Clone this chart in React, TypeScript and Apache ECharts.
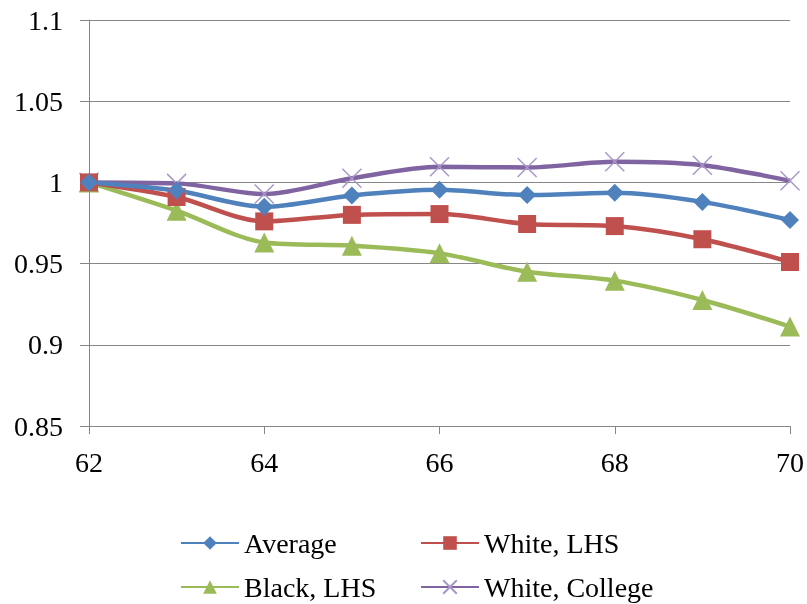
import React, { useEffect, useRef } from "react";
import * as echarts from "echarts";

const years = [62, 63, 64, 65, 66, 67, 68, 69, 70];
const average = [1.0, 0.995, 0.985, 0.992, 0.9955, 0.9922, 0.9936, 0.988, 0.9768];
const whiteLHS = [1.0, 0.991, 0.976, 0.980, 0.9805, 0.9744, 0.9731, 0.965, 0.951];
const blackLHS = [1.0, 0.9826, 0.963, 0.961, 0.9563, 0.945, 0.9395, 0.9276, 0.9112];
const whiteCollege = [1.0, 0.9994, 0.9928, 1.0025, 1.0096, 1.0092, 1.0127, 1.0106, 1.001];
const yTicks = { min: 0.85, max: 1.1, interval: 0.05 };
const xTicks = { min: 62, max: 70, interval: 2 };

const FONT = "Times New Roman";
const FS = 28;
const RICH = { t: { fontFamily: FONT, fontSize: FS, color: "#000" } };

const pairs = (vals: number[]) => years.map((y, i) => [y, vals[i]]);

export default function App() {
  const ref = useRef<HTMLDivElement>(null);
  useEffect(() => {
    if (!ref.current) return;
    const chart = echarts.init(ref.current, undefined, { renderer: "svg" });
    const mkSeries = (name: string, vals: number[], color: string, symbol: string, size: number, extra: any = {}) => ({
      name,
      type: "line",
      smooth: 0.3,
      data: pairs(vals),
      symbol,
      symbolSize: size,
      lineStyle: { color, width: 4.5 },
      itemStyle: { color },
      ...extra,
    });
    const legendItem = (name: string, left: number, top: number) => ({
      show: true,
      data: [name],
      left,
      top,
      itemWidth: 58,
      itemHeight: 17,
      itemGap: 0,
      formatter: (n: string) => `{t|${n}}`,
      textStyle: { fontFamily: FONT, fontSize: FS, rich: RICH },
    });
    chart.setOption({
      animation: false,
      grid: { left: 89, right: 15, top: 20, bottom: 178 },
      xAxis: {
        type: "value",
        min: xTicks.min,
        max: xTicks.max,
        interval: xTicks.interval,
        axisLine: { show: true, lineStyle: { color: "#868686", width: 1 } },
        axisTick: { show: true, length: 8, lineStyle: { color: "#868686" } },
        splitLine: { show: false },
        axisLabel: {
          fontFamily: FONT,
          fontSize: FS,
          margin: 22,
          formatter: (v: number) => `{t|${v}}`,
          rich: RICH,
        },
      },
      yAxis: {
        type: "value",
        min: yTicks.min,
        max: yTicks.max,
        interval: yTicks.interval,
        axisLine: { show: true, lineStyle: { color: "#868686", width: 1 } },
        axisTick: { show: true, length: 9, lineStyle: { color: "#868686" } },
        splitLine: { show: true, lineStyle: { color: "#868686", width: 1 } },
        axisLabel: {
          fontFamily: FONT,
          fontSize: FS,
          margin: 26,
          formatter: (v: number) => `{t|${String(parseFloat(v.toFixed(2)))}}`,
          rich: RICH,
        },
      },
      legend: [
        legendItem("Average", 175, 524),
        legendItem("White, LHS", 415, 524),
        legendItem("Black, LHS", 175, 568),
        legendItem("White, College", 415, 568),
      ],
      series: [
        mkSeries("White, College", whiteCollege, "#8064A2", "path://M0,0L10,10M10,0L0,10", 19, {
          itemStyle: { color: "rgba(0,0,0,0)", borderColor: "#A897C8", borderWidth: 1.5 },
        }),
        mkSeries("Black, LHS", blackLHS, "#9BBB59", "triangle", 20),
        mkSeries("White, LHS", whiteLHS, "#C0504D", "rect", 18),
        mkSeries("Average", average, "#4F81BD", "diamond", 18),
      ],
    });
    return () => chart.dispose();
  }, []);
  return <div ref={ref} style={{ position: "fixed", left: 0, top: 0, width: 807, height: 604 }} />;
}
